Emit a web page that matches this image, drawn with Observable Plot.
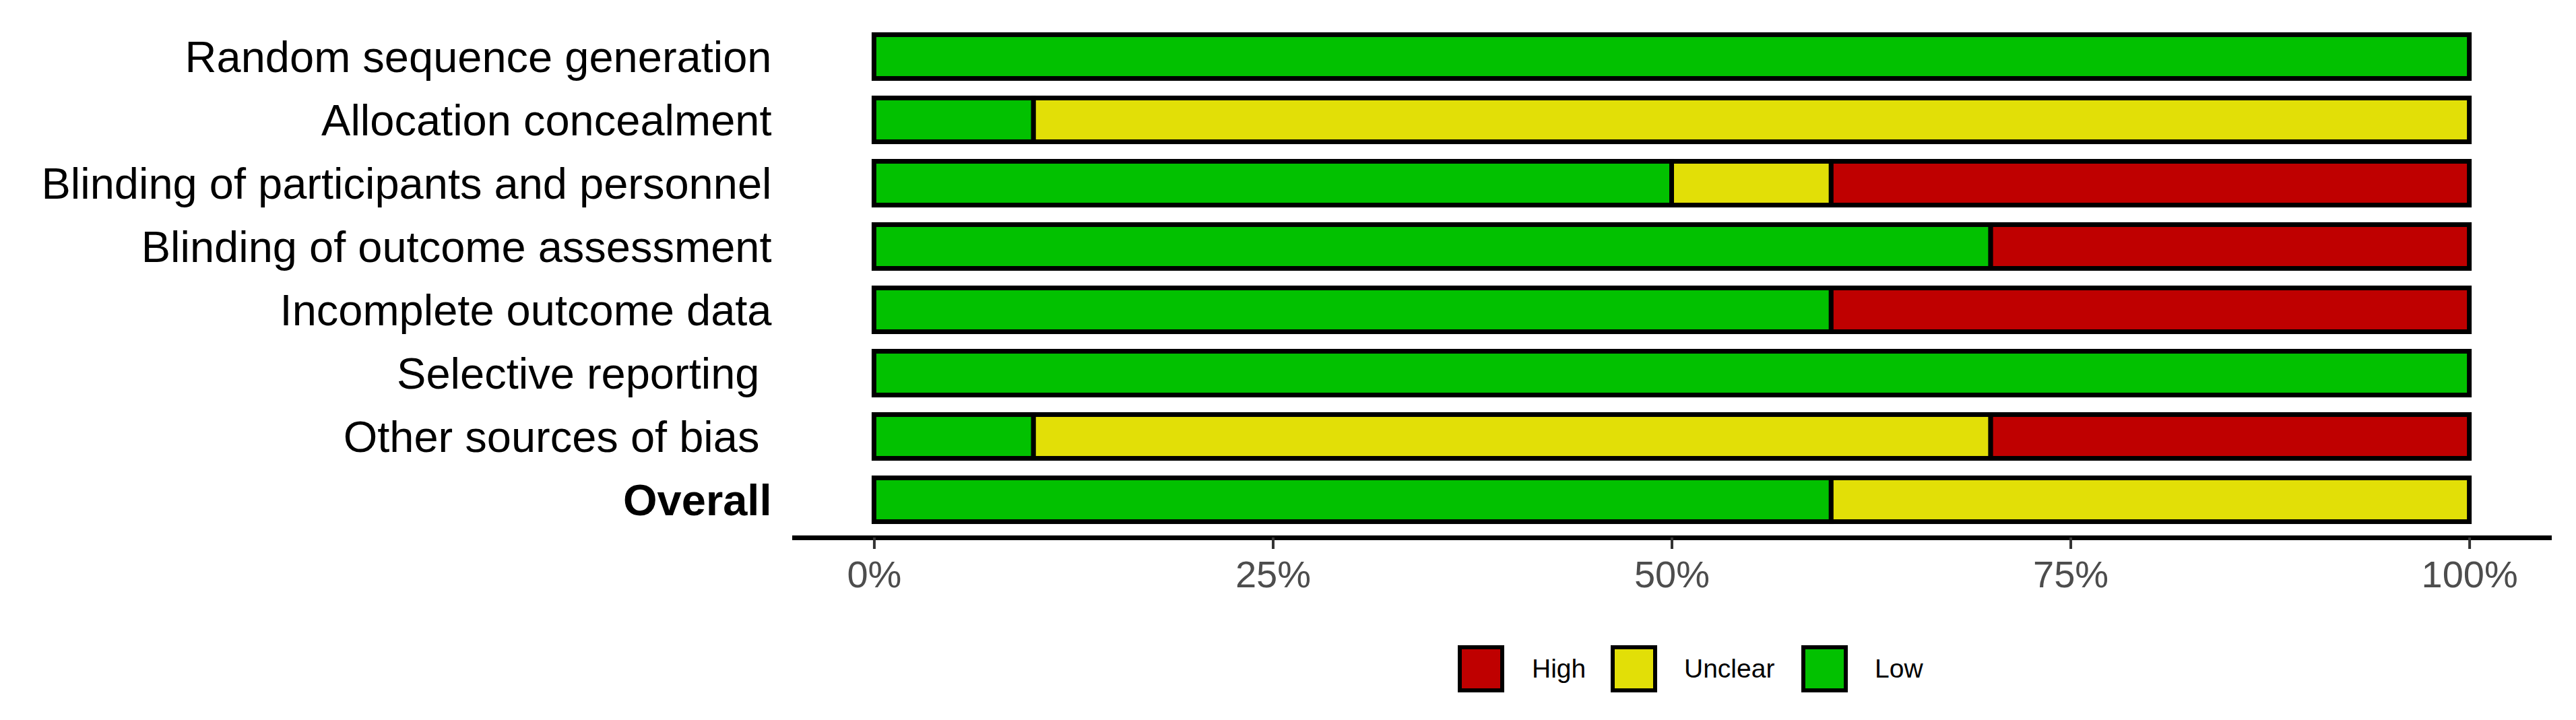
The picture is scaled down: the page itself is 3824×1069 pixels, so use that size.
<!DOCTYPE html>
<html>
<head>
<meta charset="utf-8">
<script src="https://cdn.jsdelivr.net/npm/d3@7"></script>
<script src="https://cdn.jsdelivr.net/npm/@observablehq/plot@0.6"></script>
<style>
  html, body { margin: 0; padding: 0; background: #ffffff; }
  body { width: 3824px; height: 1069px; overflow: hidden; font-family: "Liberation Sans", Arial, Helvetica, sans-serif; }
  svg text { white-space: pre; }
  #legend { position: relative; width: 3824px; height: 169px; }
  .key { position: absolute; top: 58px; width: 57px; height: 58px; border: 6px solid #000; }
  .lab { position: absolute; top: 58px; height: 70px; line-height: 70px; font-size: 39px; color: #000; }
</style>
</head>
<body>
<div id="chart"></div>
<div id="legend"></div>
<script>
// ---- data ----
const domains = [
  "Random sequence generation",
  "Allocation concealment",
  "Blinding of participants and personnel",
  "Blinding of outcome assessment",
  "Incomplete outcome data",
  "Selective reporting ",
  "Other sources of bias ",
  "Overall"
];
const lowPct     = [100, 10, 50, 70, 60, 100, 10, 60];
const unclearPct = [  0, 90, 10,  0,  0,   0, 60, 40];
const highPct    = [  0,  0, 40, 30, 40,   0, 30,  0];
const judgements = ["High", "Unclear", "Low"];
const judgementColors = ["#BF0000", "#E2DF07", "#02C100"];
const xTicks = [0, 25, 50, 75, 100];

// long table for the stacked bars (zero segments skipped)
const rows = [];
domains.forEach((d, i) => {
  [["Low", lowPct[i]], ["Unclear", unclearPct[i]], ["High", highPct[i]]].forEach(([j, v]) => {
    if (v > 0) rows.push({domain: d, judgement: j, value: v});
  });
});

const normalLabels = domains.filter(d => d !== "Overall");
const boldLabels = domains.filter(d => d === "Overall");

const chart = Plot.plot({
  width: 3824,
  height: 900,
  marginLeft: 1179,
  marginRight: 40,
  marginTop: 0,
  marginBottom: 102,
  style: {fontFamily: "'Liberation Sans', Arial, Helvetica, sans-serif", background: "#ffffff"},
  x: {domain: [-5, 105]},
  y: {domain: domains, range: [37, 789], paddingInner: 0.3085, paddingOuter: 0.154, round: false, axis: null},
  color: {domain: judgements, range: judgementColors},
  marks: [
    Plot.barX(rows, Plot.stackX({
      x: "value", y: "domain", fill: "judgement",
      order: ["Low", "Unclear", "High"],
      stroke: "#000000", strokeWidth: 7
    })),
    Plot.frame({anchor: "bottom", stroke: "#000000", strokeWidth: 7}),
    Plot.axisX({
      anchor: "bottom", ticks: xTicks, tickFormat: d => d + "%",
      tickSize: 17, tickPadding: 17, fontSize: 56,
      stroke: "#333333", strokeWidth: 4, fill: "#4D4D4D", label: null
    }),
    Plot.text(normalLabels, {
      y: d => d, frameAnchor: "left", dx: -34, dy: 2, textAnchor: "end",
      fontSize: 65, fill: "#000000"
    }),
    Plot.text(boldLabels, {
      y: d => d, frameAnchor: "left", dx: -34, dy: 2, textAnchor: "end",
      fontSize: 65, fontWeight: "bold", fill: "#000000"
    })
  ]
});
document.getElementById("chart").appendChild(chart);

// ---- legend (HTML, below the plot) ----
const legend = document.getElementById("legend");
const keyLeft = [2164, 2391, 2674];
const labLeft = [2274, 2500, 2783];
judgements.forEach((j, i) => {
  const k = document.createElement("div");
  k.className = "key";
  k.style.left = keyLeft[i] + "px";
  k.style.background = judgementColors[i];
  legend.appendChild(k);
  const t = document.createElement("div");
  t.className = "lab";
  t.style.left = labLeft[i] + "px";
  t.textContent = j;
  legend.appendChild(t);
});
</script>
</body>
</html>
